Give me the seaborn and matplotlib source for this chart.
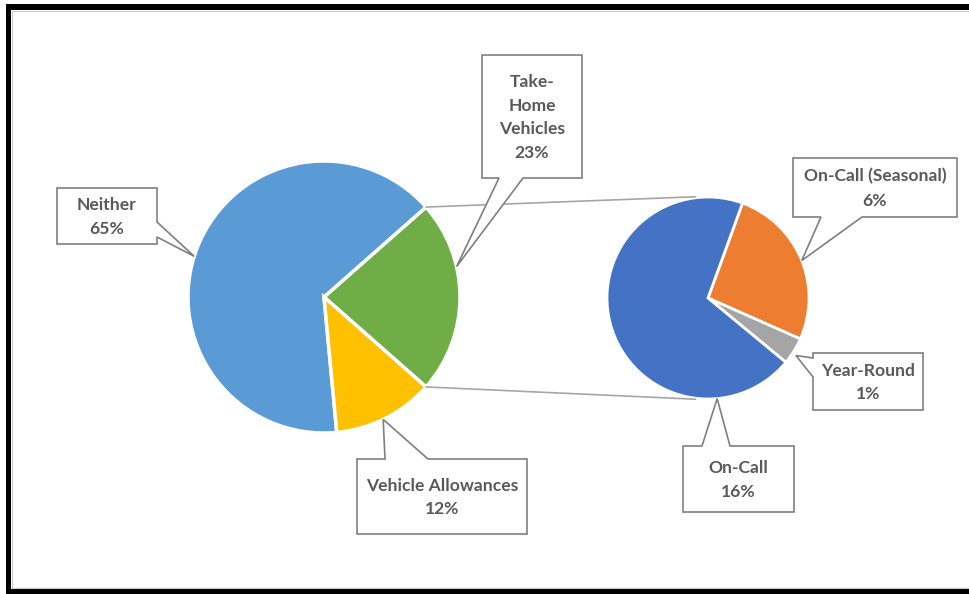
import numpy as np
import matplotlib
matplotlib.use("Agg")
import matplotlib.pyplot as plt
from matplotlib.patches import Polygon, Rectangle
from matplotlib.lines import Line2D
import seaborn as sns

# ---------------- data ----------------
main_labels = ["Take-\nHome\nVehicles", "Neither", "Vehicle Allowances"]
main_values = [23, 65, 12]
main_colors = ["#70AD47", "#5B9BD5", "#FFC000"]

sub_labels = ["On-Call (Seasonal)", "Year-Round", "On-Call"]
sub_values = [6, 1, 16]
sub_colors = ["#ED7D31", "#A5A5A5", "#4472C4"]

# ---------------- style ----------------
sns.set_theme(style="white")
plt.rcParams["font.family"] = ["Lato", "DejaVu Sans"]

W, H = 969, 594
fig = plt.figure(figsize=(W / 100, H / 100), dpi=100)
ax = fig.add_axes([0, 0, 1, 1])

C1, R1 = (324, 297), 136
C2, R2 = (708, 296), 101

half = main_values[0] / sum(main_values) * 180.0
w1, _ = ax.pie(main_values, colors=main_colors, startangle=-half, counterclock=True,
               center=C1, radius=R1,
               wedgeprops=dict(edgecolor="white", linewidth=2.5))
w2, _ = ax.pie(sub_values, colors=sub_colors, startangle=70, counterclock=False,
               center=C2, radius=R2, explode=[0, 0.03, 0],
               wedgeprops=dict(edgecolor="white", linewidth=2))
ax.set_xlim(0, W)
ax.set_ylim(0, H)
ax.set_aspect("equal")
ax.axis("off")


def on_pie(c, r, ang):
    a = np.deg2rad(ang)
    return (c[0] + r * np.cos(a), c[1] + r * np.sin(a))


# connector lines between the pies
for sgn in (1, -1):
    p0 = on_pie(C1, R1, sgn * half)
    p1 = on_pie(C2, R2 + 1, sgn * 97)
    ax.add_line(Line2D([p0[0], p1[0]], [p0[1], p1[1]], color="#A6A6A6", lw=1.2, zorder=3))


def callout(box, side, base, tip, text):
    l, t, r, b = box
    tx, ty = tip[0], H - tip[1]  # to pixel coords (top-down)
    pts = [(l, t)]
    if side == "top":
        pts += [(base[0], t), (tx, ty), (base[1], t)]
    pts += [(r, t)]
    if side == "right":
        pts += [(r, base[0]), (tx, ty), (r, base[1])]
    pts += [(r, b)]
    if side == "bottom":
        pts += [(base[1], b), (tx, ty), (base[0], b)]
    pts += [(l, b)]
    if side == "left":
        pts += [(l, base[1]), (tx, ty), (l, base[0])]
    pts = [(x, H - y) for x, y in pts]
    ax.add_patch(Polygon(pts, closed=True, facecolor="white", edgecolor="#7F7F7F",
                         lw=1.2, zorder=5, joinstyle="miter"))
    ax.text((l + r) / 2, H - (t + b) / 2 - 1, text, ha="center", va="center",
            fontsize=12.6, fontweight="bold", color="#595959", linespacing=1.6, zorder=6)


lab = {lbl: f"{lbl}\n{v}%" for lbl, v in zip(main_labels + sub_labels, main_values + sub_values)}

callout((57, 188, 157, 244), "right", (222, 237), on_pie(C1, R1, 162.6), lab["Neither"])
callout((482, 55, 582, 178), "bottom", (499, 523), on_pie(C1, R1, 12.9), lab[main_labels[0]])
callout((357, 459, 527, 534), "top", (385, 428), on_pie(C1, R1, -64.2), lab["Vehicle Allowances"])
callout((793, 158, 957, 217), "bottom", (821, 862), on_pie(C2, R2, 21.8), lab["On-Call (Seasonal)"])
callout((813, 353, 923, 410), "left", (358, 377), on_pie(C2, R2 * 1.04, -33.2), lab["Year-Round"])
callout((683, 446, 794, 512), "top", (702, 730), on_pie(C2, R2, -84.8), lab["On-Call"])

# outer frame (black band on top, left and bottom)
frame_kw = dict(facecolor="black", edgecolor="none", zorder=10, clip_on=False)
ax.add_patch(Rectangle((6, H - 10), W - 6, 6, **frame_kw))
ax.add_patch(Rectangle((6, 0), 5, H - 4, **frame_kw))
ax.add_patch(Rectangle((6, 0), W - 6, 5, **frame_kw))
ax.add_line(Line2D([12, W], [H - 11, H - 11], color="#C8C8C8", lw=0.8, zorder=10))
ax.add_line(Line2D([12, 12], [6, H - 11], color="#C8C8C8", lw=0.8, zorder=10))
ax.add_line(Line2D([12, W], [6, 6], color="#C8C8C8", lw=0.8, zorder=10))

fig.savefig("out.png", dpi=100, facecolor="white")
